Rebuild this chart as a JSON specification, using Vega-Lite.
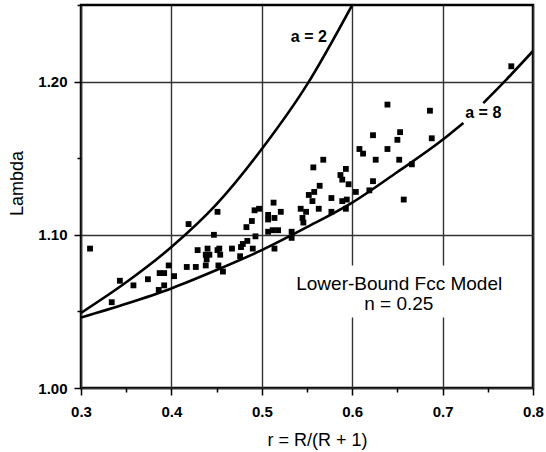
{
  "$schema": "https://vega.github.io/schema/vega-lite/v6.json",
  "width": 452,
  "height": 383,
  "autosize": {"type": "none"},
  "padding": {"left": 81, "top": 5, "right": 13, "bottom": 64},
  "background": "white",
  "config": {
    "font": "Liberation Sans",
    "view": {"stroke": "black", "strokeWidth": 2.5},
    "axis": {
      "domain": false,
      "gridColor": "#333333",
      "gridWidth": 1.4,
      "tickColor": "black",
      "tickWidth": 1.5,
      "labelFont": "Liberation Sans",
      "labelFontWeight": "bold",
      "labelFontSize": 15,
      "labelColor": "black",
      "titleFont": "Liberation Sans",
      "titleFontWeight": "normal",
      "titleFontSize": 18,
      "titleColor": "black"
    }
  },
  "datasets": {
    "pts": [
      {"r": 0.310, "lambda": 1.091}, {"r": 0.334, "lambda": 1.056}, {"r": 0.343, "lambda": 1.070},
      {"r": 0.358, "lambda": 1.067}, {"r": 0.374, "lambda": 1.071}, {"r": 0.386, "lambda": 1.064},
      {"r": 0.387, "lambda": 1.075}, {"r": 0.392, "lambda": 1.075}, {"r": 0.392, "lambda": 1.067},
      {"r": 0.397, "lambda": 1.080}, {"r": 0.403, "lambda": 1.073}, {"r": 0.417, "lambda": 1.079},
      {"r": 0.419, "lambda": 1.107}, {"r": 0.427, "lambda": 1.079}, {"r": 0.429, "lambda": 1.090},
      {"r": 0.438, "lambda": 1.087}, {"r": 0.438, "lambda": 1.080}, {"r": 0.439, "lambda": 1.084},
      {"r": 0.440, "lambda": 1.091}, {"r": 0.442, "lambda": 1.087}, {"r": 0.447, "lambda": 1.100},
      {"r": 0.451, "lambda": 1.115}, {"r": 0.451, "lambda": 1.090}, {"r": 0.452, "lambda": 1.080},
      {"r": 0.453, "lambda": 1.091}, {"r": 0.454, "lambda": 1.087}, {"r": 0.457, "lambda": 1.076},
      {"r": 0.467, "lambda": 1.091}, {"r": 0.476, "lambda": 1.086}, {"r": 0.477, "lambda": 1.092},
      {"r": 0.479, "lambda": 1.094}, {"r": 0.483, "lambda": 1.105}, {"r": 0.484, "lambda": 1.096},
      {"r": 0.489, "lambda": 1.109}, {"r": 0.490, "lambda": 1.091}, {"r": 0.492, "lambda": 1.116},
      {"r": 0.493, "lambda": 1.099}, {"r": 0.497, "lambda": 1.117}, {"r": 0.507, "lambda": 1.113},
      {"r": 0.507, "lambda": 1.110}, {"r": 0.507, "lambda": 1.102}, {"r": 0.512, "lambda": 1.103},
      {"r": 0.513, "lambda": 1.121}, {"r": 0.514, "lambda": 1.111}, {"r": 0.514, "lambda": 1.091},
      {"r": 0.518, "lambda": 1.103}, {"r": 0.521, "lambda": 1.115}, {"r": 0.533, "lambda": 1.102},
      {"r": 0.533, "lambda": 1.098}, {"r": 0.543, "lambda": 1.117}, {"r": 0.545, "lambda": 1.111},
      {"r": 0.546, "lambda": 1.108}, {"r": 0.549, "lambda": 1.115}, {"r": 0.552, "lambda": 1.126},
      {"r": 0.556, "lambda": 1.122}, {"r": 0.557, "lambda": 1.144}, {"r": 0.558, "lambda": 1.128},
      {"r": 0.563, "lambda": 1.117}, {"r": 0.564, "lambda": 1.132}, {"r": 0.568, "lambda": 1.149},
      {"r": 0.577, "lambda": 1.124}, {"r": 0.577, "lambda": 1.115}, {"r": 0.587, "lambda": 1.139},
      {"r": 0.589, "lambda": 1.136}, {"r": 0.589, "lambda": 1.122}, {"r": 0.593, "lambda": 1.143},
      {"r": 0.593, "lambda": 1.117}, {"r": 0.594, "lambda": 1.123}, {"r": 0.596, "lambda": 1.133},
      {"r": 0.604, "lambda": 1.128}, {"r": 0.608, "lambda": 1.156}, {"r": 0.612, "lambda": 1.153},
      {"r": 0.619, "lambda": 1.129}, {"r": 0.623, "lambda": 1.165}, {"r": 0.623, "lambda": 1.135},
      {"r": 0.626, "lambda": 1.149}, {"r": 0.639, "lambda": 1.185}, {"r": 0.639, "lambda": 1.156},
      {"r": 0.650, "lambda": 1.162}, {"r": 0.652, "lambda": 1.149}, {"r": 0.653, "lambda": 1.167},
      {"r": 0.657, "lambda": 1.123}, {"r": 0.666, "lambda": 1.146}, {"r": 0.686, "lambda": 1.181},
      {"r": 0.688, "lambda": 1.163}, {"r": 0.776, "lambda": 1.210}
    ],
    "curves": [
      {"seg": "a2", "r": 0.30, "lambda": 1.049},
      {"seg": "a2", "r": 0.35, "lambda": 1.069},
      {"seg": "a2", "r": 0.40, "lambda": 1.092},
      {"seg": "a2", "r": 0.45, "lambda": 1.120},
      {"seg": "a2", "r": 0.50, "lambda": 1.156},
      {"seg": "a2", "r": 0.55, "lambda": 1.198},
      {"seg": "a2", "r": 0.60, "lambda": 1.250},
      {"seg": "a8a", "r": 0.30, "lambda": 1.046},
      {"seg": "a8a", "r": 0.35, "lambda": 1.055},
      {"seg": "a8a", "r": 0.40, "lambda": 1.065},
      {"seg": "a8a", "r": 0.45, "lambda": 1.077},
      {"seg": "a8a", "r": 0.50, "lambda": 1.090},
      {"seg": "a8a", "r": 0.55, "lambda": 1.105},
      {"seg": "a8a", "r": 0.60, "lambda": 1.121},
      {"seg": "a8a", "r": 0.65, "lambda": 1.141},
      {"seg": "a8a", "r": 0.70, "lambda": 1.162},
      {"seg": "a8a", "r": 0.723, "lambda": 1.173},
      {"seg": "a8b", "r": 0.745, "lambda": 1.186},
      {"seg": "a8b", "r": 0.77, "lambda": 1.201},
      {"seg": "a8b", "r": 0.80, "lambda": 1.220}
    ],
    "box": [
      {"r1": 0.528, "r2": 0.778, "l1": 1.046, "l2": 1.080}
    ],
    "curveLabels": [
      {"r": 0.552, "lambda": 1.229, "text": "a = 2"},
      {"r": 0.745, "lambda": 1.1795, "text": "a = 8"}
    ],
    "note": [
      {"r": 0.652, "lambda": 1.0678, "text": "Lower-Bound Fcc Model"},
      {"r": 0.6515, "lambda": 1.0551, "text": "n = 0.25"}
    ]
  },
  "layer": [
    {
      "data": {"name": "box"},
      "mark": {"type": "rect", "fill": "white", "stroke": null},
      "encoding": {
        "x": {
          "field": "r1", "type": "quantitative",
          "scale": {"domain": [0.3, 0.8], "nice": false, "zero": false},
          "axis": {
            "title": "r = R/(R + 1)",
            "values": [0.3, 0.35, 0.4, 0.45, 0.5, 0.55, 0.6, 0.65, 0.7, 0.75, 0.8],
            "labelExpr": "abs(datum.value*10 - round(datum.value*10)) > 0.01 ? '' : format(datum.value, '.1f')",
            "tickSize": {"condition": {"test": "abs(datum.value*10 - round(datum.value*10)) > 0.01", "value": 4}, "value": 7},
            "gridOpacity": {"condition": {"test": "abs(datum.value*10 - round(datum.value*10)) > 0.01", "value": 0}, "value": 1},
            "labelPadding": 9,
            "labelFlush": false,
            "titleX": 236,
            "titleY": 57,
            "titleBaseline": "alphabetic"
          }
        },
        "x2": {"field": "r2"},
        "y": {
          "field": "l1", "type": "quantitative",
          "scale": {"domain": [1.0, 1.25], "nice": false, "zero": false},
          "axis": {
            "title": "Lambda",
            "values": [1.0, 1.05, 1.1, 1.15, 1.2, 1.25],
            "labelExpr": "(abs(datum.value*10 - round(datum.value*10)) > 0.01 || datum.value > 1.22) ? '' : format(datum.value, '.2f')",
            "tickSize": {"condition": {"test": "abs(datum.value*10 - round(datum.value*10)) > 0.01", "value": 4}, "value": 7},
            "gridOpacity": {"condition": {"test": "abs(datum.value*10 - round(datum.value*10)) > 0.01", "value": 0}, "value": 1},
            "labelPadding": 7,
            "labelFlush": false,
            "titleX": -59,
            "titleY": 178,
            "titleAngle": 270,
            "titleBaseline": "alphabetic",
            "titleAlign": "center"
          }
        },
        "y2": {"field": "l2"}
      }
    },
    {
      "data": {"name": "curves"},
      "mark": {"type": "line", "color": "black", "strokeWidth": 2.6, "interpolate": "monotone", "clip": true},
      "encoding": {
        "x": {"field": "r", "type": "quantitative"},
        "y": {"field": "lambda", "type": "quantitative"},
        "detail": {"field": "seg", "type": "nominal"}
      }
    },
    {
      "data": {"name": "pts"},
      "mark": {"type": "point", "shape": "square", "filled": true, "color": "black", "opacity": 1, "size": 34},
      "encoding": {
        "x": {"field": "r", "type": "quantitative"},
        "y": {"field": "lambda", "type": "quantitative"}
      }
    },
    {
      "data": {"name": "curveLabels"},
      "mark": {"type": "text", "font": "Liberation Sans", "fontSize": 16, "fontWeight": "bold", "color": "black", "align": "center", "baseline": "middle"},
      "encoding": {
        "x": {"field": "r", "type": "quantitative"},
        "y": {"field": "lambda", "type": "quantitative"},
        "text": {"field": "text"}
      }
    },
    {
      "data": {"name": "note"},
      "mark": {"type": "text", "font": "Liberation Sans", "fontSize": 19, "color": "black", "align": "center", "baseline": "middle"},
      "encoding": {
        "x": {"field": "r", "type": "quantitative"},
        "y": {"field": "lambda", "type": "quantitative"},
        "text": {"field": "text"}
      }
    }
  ]
}
